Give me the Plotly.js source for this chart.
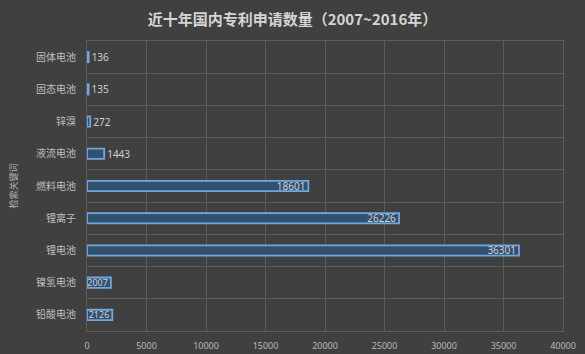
<!DOCTYPE html>
<html>
<head>
<meta charset="utf-8">
<script src="https://cdn.plot.ly/plotly-3.0.1.min.js"></script>
<style>html,body{margin:0;padding:0;background:#404040;}#chart{width:585px;height:354px;}</style>
</head>
<body>
<div id="chart"></div>
<script>
const categories = ["固体电池","固态电池","锌溴","液流电池","燃料电池","锂离子","锂电池","镍氢电池","铅酸电池"];
const values = [136, 135, 272, 1443, 18601, 26226, 36301, 2007, 2126];
const xTicks = [0,5000,10000,15000,20000,25000,30000,35000,40000];
const titleText = "近十年国内专利申请数量（2007~2016年）";
const yTitle = "检索关键词";

const textPos = values.map(v => v >= 2000 ? "inside" : "outside");
const textSize = values.map(v => (v >= 2000 && v < 5000) ? 9 : 10);

const trace = {
  type: "bar",
  orientation: "h",
  y: categories,
  x: values,
  width: 0.32,
  text: values.map(String),
  textposition: textPos,
  insidetextanchor: "end",
  constraintext: "none",
  cliponaxis: false,
  textfont: {family: "Noto Sans, sans-serif", size: textSize, color: "#cfcfcf"},
  marker: {color: "#34506f", line: {color: "#6fa8dc", width: 1.8}},
  hoverinfo: "none"
};

const layout = {
  width: 585, height: 354,
  paper_bgcolor: "#404040",
  plot_bgcolor: "#404040",
  margin: {l: 87, r: 22, t: 41, b: 23},
  font: {family: "Noto Sans CJK SC, Noto Sans, sans-serif", color: "#bfbfbf"},
  title: {text: titleText, x: 0.5, xanchor: "center", y: 0.945, yanchor: "middle",
          font: {size: 15, color: "#d4d4d4", family: "Noto Sans CJK SC, sans-serif", weight: "bold"}},
  showlegend: false,
  bargap: 0.68,
  xaxis: {
    range: [0, 40000], tickvals: xTicks, ticktext: xTicks.map(String),
    showgrid: true, gridcolor: "#5c5c5c", gridwidth: 1,
    zeroline: false, showline: true, linecolor: "#5c5c5c", mirror: true,
    tickfont: {size: 9, color: "#b8b8b8", family: "Noto Sans, sans-serif"},
    ticks: "", ticklen: 0, ticklabelstandoff: 6
  },
  yaxis: {
    type: "category", autorange: "reversed",
    tickson: "boundaries", showgrid: true, gridcolor: "#5c5c5c", gridwidth: 1,
    showline: true, linecolor: "#5c5c5c", mirror: true, ticks: "",
    tickfont: {size: 10, color: "#bfbfbf", family: "Noto Sans CJK SC, sans-serif"},
    ticklabelstandoff: 8,
    title: {text: yTitle, font: {size: 9, color: "#b0b0b0", family: "Noto Sans CJK SC, sans-serif"}, standoff: 16}
  }
};

Plotly.newPlot("chart", [trace], layout, {displayModeBar: false, staticPlot: true});
</script>
</body>
</html>
